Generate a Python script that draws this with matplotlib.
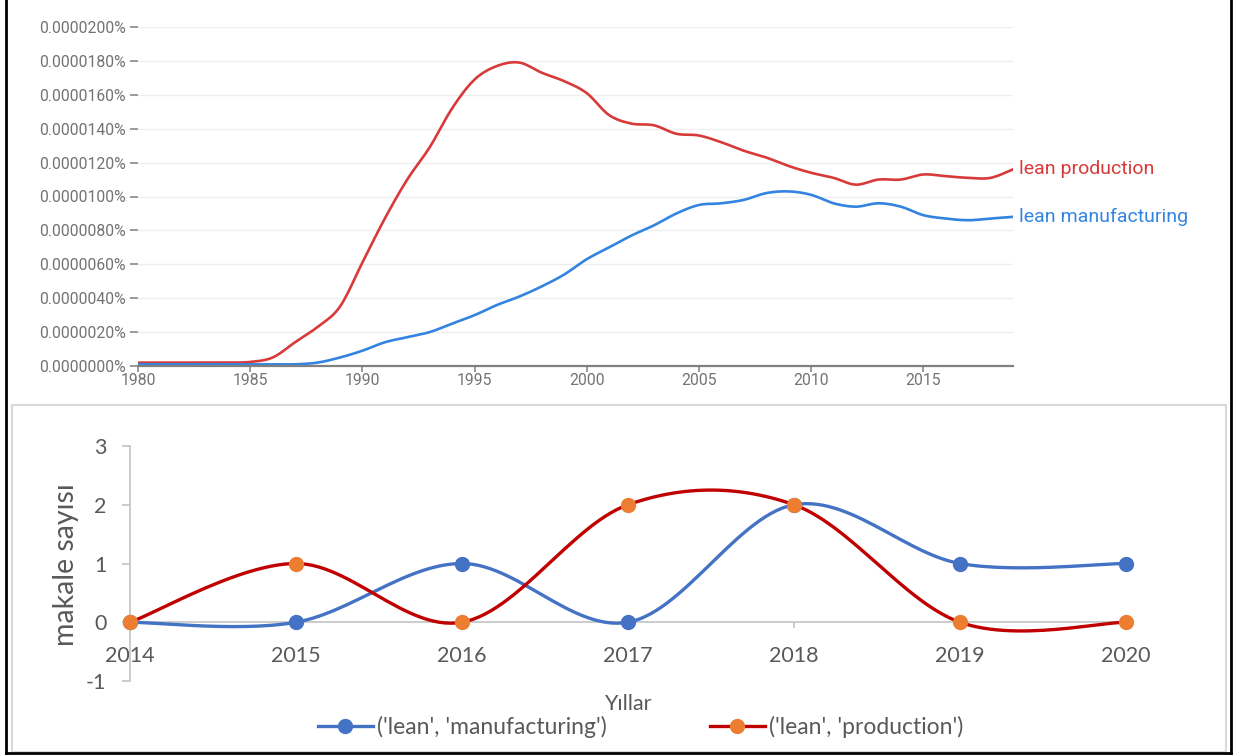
import numpy as np
import matplotlib
matplotlib.use("Agg")
import matplotlib.pyplot as plt
from matplotlib.lines import Line2D
from matplotlib.patches import Rectangle

plt.rcParams["axes.unicode_minus"] = False

# Ngram frequencies, in units of 0.0000001 %
ngram_years = list(range(1980, 2020))
lean_production = [2, 2, 2, 2, 2, 2.4, 5, 14, 23, 35,
                   61, 87, 110, 129, 152, 169, 177, 179, 173, 168,
                   161, 148, 143, 142, 137, 136, 132, 127, 123, 118,
                   114, 111, 107, 110, 110, 113, 112, 111, 111, 116]
lean_manufacturing = [1, 1, 1, 1, 1, 1, 1, 1, 2, 5,
                      9, 14, 17, 20, 25, 30, 36, 41, 47, 54,
                      63, 70, 77, 83, 90, 95, 96, 98, 102, 103,
                      101, 96, 94, 96, 94, 89, 87, 86, 87, 88]

# article counts per year
years = [2014, 2015, 2016, 2017, 2018, 2019, 2020]
manufacturing_counts = [0, 0, 1, 0, 2, 1, 1]
production_counts = [0, 1, 0, 2, 2, 0, 0]


def smooth(xs, ys, n=30):
    """Excel style smoothed line (Catmull-Rom as cubic Bezier)."""
    p = np.column_stack([xs, ys]).astype(float)
    out = []
    t = np.linspace(0, 1, n)[:, None]
    for i in range(len(p) - 1):
        p0 = p[max(i - 1, 0)]
        p3 = p[min(i + 2, len(p) - 1)]
        c1 = p[i] + (p[i + 1] - p0) / 6
        c2 = p[i + 1] - (p3 - p[i]) / 6
        seg = ((1 - t) ** 3 * p[i] + 3 * (1 - t) ** 2 * t * c1
               + 3 * (1 - t) * t ** 2 * c2 + t ** 3 * p[i + 1])
        out.append(seg if i == 0 else seg[1:])
    out = np.vstack(out)
    return out[:, 0], out[:, 1]


W, H = 1234, 755
fig = plt.figure(figsize=(W / 100, H / 100), dpi=100)

# ---------- top: ngram chart ----------
ax1 = fig.add_axes([138 / W, 1 - 366 / H, (1013 - 138) / W, (366 - 27) / H])
red, blue = "#d83a3a", "#3384e0"
for vals, col, name in [(lean_production, red, "lean production"),
                        (lean_manufacturing, blue, "lean manufacturing")]:
    sx, sy = smooth(ngram_years, vals, 12)
    ax1.plot(sx, sy, color=col, lw=1.9, solid_capstyle="round")
    ax1.annotate(name, (ngram_years[-1], vals[-1]), xytext=(4, 0),
                 textcoords="offset points", ha="left", va="center",
                 color=col, fontsize=14, family="Roboto", annotation_clip=False)

ax1.set_xlim(1980, 2019)
ax1.set_ylim(0, 200)
ax1.set_yticks(range(0, 201, 20))
ax1.set_yticklabels([f"{v * 1e-7:.7f}%" for v in range(0, 201, 20)])
ax1.set_xticks(range(1980, 2016, 5))
for s in ["top", "right", "left"]:
    ax1.spines[s].set_visible(False)
ax1.spines["bottom"].set_color("#808080")
ax1.spines["bottom"].set_linewidth(1.6)
ax1.grid(axis="y", color="#eeeeee", lw=1)
ax1.set_axisbelow(True)
ax1.tick_params(axis="y", length=6, width=1.1, color="#808080", pad=3,
                labelsize=11.3, labelcolor="#737373")
ax1.tick_params(axis="x", length=4, width=1.1, color="#808080", pad=1,
                labelsize=11.3, labelcolor="#737373")
for lab in ax1.get_xticklabels() + ax1.get_yticklabels():
    lab.set_family("Roboto")

# ---------- bottom: excel chart ----------
ax2 = fig.add_axes([130 / W, 1 - 681 / H, (1126 - 130) / W, (681 - 446) / H])
mblue, mred, morange = "#4472c4", "#c00000", "#ed7d31"
sx, sy = smooth(years, manufacturing_counts)
ax2.plot(sx, sy, color=mblue, lw=2.4, clip_on=False, zorder=3)
ax2.plot(years, manufacturing_counts, "o", color=mblue, ms=10, clip_on=False, zorder=4)
sx, sy = smooth(years, production_counts)
ax2.plot(sx, sy, color=mred, lw=2.4, clip_on=False, zorder=3)
ax2.plot(years, production_counts, "o", color=morange, ms=10, clip_on=False, zorder=4)

ax2.set_xlim(2014, 2020)
ax2.set_ylim(-1, 3)
ax2.set_xticks(years)
ax2.set_yticks([-1, 0, 1, 2, 3])
for s in ["top", "right"]:
    ax2.spines[s].set_visible(False)
ax2.spines["bottom"].set_position(("data", 0))
for s in ["bottom", "left"]:
    ax2.spines[s].set_color("#c8c8c8")
    ax2.spines[s].set_linewidth(1.3)
ax2.tick_params(axis="y", length=6, width=1.3, color="#c8c8c8", pad=11,
                labelsize=15.5, labelcolor="#595959")
ax2.tick_params(axis="x", length=4, width=1.3, color="#c8c8c8", pad=13,
                labelsize=15.5, labelcolor="#595959")
for lab in ax2.get_xticklabels() + ax2.get_yticklabels():
    lab.set_family("Lato")

fig.text(66 / W, 1 - 565 / H, "makale sayısı", rotation=90, ha="center", va="center",
         fontsize=20.5, color="#595959", family="Lato")
fig.text(628 / W, 1 - 704 / H, "Yıllar", ha="center", va="center",
         fontsize=15.5, color="#595959", family="Lato")

handles = [Line2D([], [], color=mblue, lw=2.4, marker="o", ms=10, mfc=mblue, mec=mblue),
           Line2D([], [], color=mred, lw=2.4, marker="o", ms=10, mfc=morange, mec=morange)]
labels = ["('lean', 'manufacturing')", "('lean', 'production')"]
fig.legend(handles, labels, loc="center left", bbox_to_anchor=(318 / W, 1 - 727 / H),
           ncol=2, frameon=False, borderpad=0, borderaxespad=0,
           handlelength=2.4, handletextpad=0.17, columnspacing=4.5,
           prop={"family": "Lato", "size": 16.5}, labelcolor="#595959")

# panel frames
fig.add_artist(Rectangle((12 / W, 1 - 752 / H), (1226 - 12) / W, (752 - 405) / H,
                         transform=fig.transFigure, fill=False, ec="#d9d9d9", lw=1.5))
for xs, ys in [([6, 6], [0, 753]), ([1231, 1231], [0, 753]), ([6, 1231], [753, 753])]:
    fig.add_artist(Line2D([x / W for x in xs], [1 - y / H for y in ys],
                          transform=fig.transFigure, color="black", lw=2))

fig.savefig("out.png", dpi=100)
